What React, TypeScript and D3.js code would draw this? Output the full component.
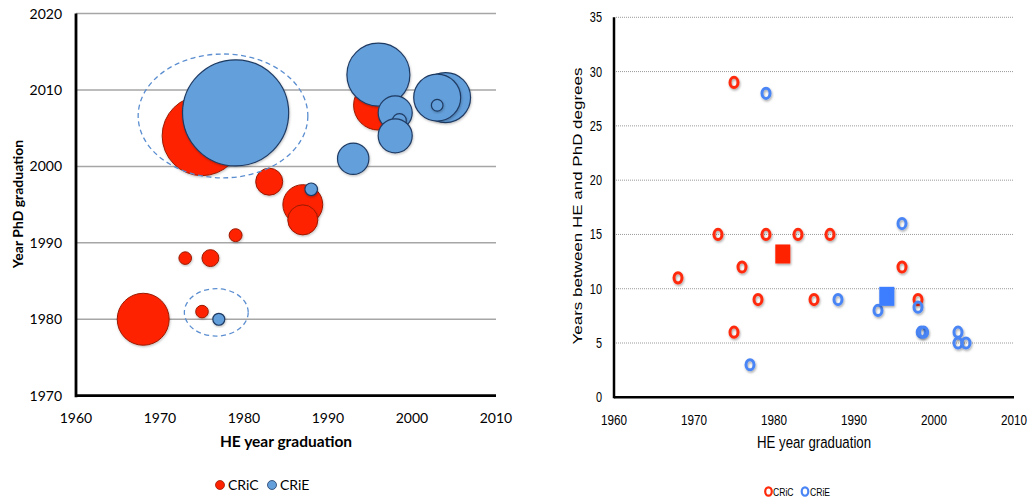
import React from "react";
import * as d3 from "d3";

// ---------- Left chart data (bubble chart) ----------
const cricHE = [1968, 1973, 1975, 1975, 1976, 1979, 1983, 1987, 1987, 1996];
const cricPhD = [1980, 1988, 1981, 2004, 1988, 1991, 1998, 1995, 1993, 2008];
const cricSize = [17, 1, 1, 40, 1.8, 1.05, 4.6, 10, 5.7, 15.5];

const crieHE = [1977, 1979, 1988, 1993, 1996, 1998, 1998.5, 1998, 2004, 2003, 2003];
const criePhD = [1980, 2007, 1997, 2001, 2012, 2007, 2006, 2004, 2009, 2009, 2008];
const crieSize = [0.9, 71, 1, 6.2, 25, 7.3, 1.2, 7.3, 15.7, 13.9, 0.85];

// dashed annotation ellipses (data units: cx, cy, rx years, ry years)
const groupCx = [1977.5, 1976.7];
const groupCy = [2006.6, 1980.9];
const groupRx = [10.1, 3.8];
const groupRy = [8.1, 3.1];

const leftXTicks = [1960, 1970, 1980, 1990, 2000, 2010];
const leftYTicks = [1970, 1980, 1990, 2000, 2010, 2020];

// ---------- Right chart data (gap scatter) ----------
const cricGapHE = [1968, 1973, 1975, 1975, 1976, 1978, 1979, 1983, 1985, 1987, 1996, 1998];
const cricGap = [11, 15, 29, 6, 12, 9, 15, 15, 9, 15, 12, 9];
const crieGapHE = [1977, 1979, 1988, 1993, 1996, 1998, 1998.4, 1998.7, 2003, 2003, 2004];
const crieGap = [3, 28, 9, 8, 16, 8.3, 6, 6, 6, 5, 5];
const meanHE = [1981.1, 1994.1];
const meanGap = [13.2, 9.3];

const rightXTicks = [1960, 1970, 1980, 1990, 2000, 2010];
const rightYTicks = [0, 5, 10, 15, 20, 25, 30, 35];

const RED = "#FF2200";
const RED_STROKE = "#9A1A05";
const BLUE = "#639FDB";
const BLUE_STROKE = "#1F3B63";
const RING_RED = "#FF2A0A";
const RING_BLUE = "#4A85F5";

const LFONT = "Lato, 'Open Sans', sans-serif";
const RFONT = "'Liberation Sans', Arial, sans-serif";

export default function App() {
  // left scales
  const lx = d3.scaleLinear().domain([1960, 2010]).range([76, 496]);
  const ly = d3.scaleLinear().domain([1970, 2020]).range([395.7, 13.5]);
  const rs = d3.scaleSqrt().domain([0, 1]).range([0, 6.3]);

  // right scales
  const rx = d3.scaleLinear().domain([1960, 2010]).range([614, 1014]);
  const ry = d3.scaleLinear().domain([0, 35]).range([397.3, 17.3]);

  const sx = 0.78; // horizontal squeeze of right-hand text

  return (
    <svg
      width={1032}
      height={497}
      style={{ position: "absolute", left: 0, top: 0, background: "#fff" }}
    >
      <defs>
        <filter id="sh" x="-50%" y="-50%" width="200%" height="200%">
          <feDropShadow dx="0.8" dy="1.5" stdDeviation="0.9" floodColor="#000" floodOpacity="0.35" />
        </filter>
        <filter id="shb" x="-20%" y="-20%" width="140%" height="140%">
          <feDropShadow dx="0.6" dy="1.2" stdDeviation="1" floodColor="#000" floodOpacity="0.25" />
        </filter>
      </defs>

      {/* ================= LEFT CHART ================= */}
      <g>
        {leftYTicks.filter((t) => t !== 1970).map((t) => (
          <line key={"lg" + t} x1={lx(1960)} x2={lx(2010)} y1={ly(t)} y2={ly(t)} stroke="#A6A6A6" strokeWidth={1.5} />
        ))}
        {leftYTicks.map((t) => (
          <text key={"lyt" + t} x={62} y={ly(t) + 5} textAnchor="end" fontFamily={LFONT} fontSize={14} fill="#000">
            {t}
          </text>
        ))}
        {leftXTicks.map((t) => (
          <text key={"lxt" + t} x={lx(t)} y={422.5} textAnchor="middle" fontFamily={LFONT} fontSize={14} fill="#000">
            {t}
          </text>
        ))}

        {/* bubbles: CRiC */}
        {cricHE.map((h, i) => (
          <circle key={"cb" + i} cx={lx(h)} cy={ly(cricPhD[i])} r={rs(cricSize[i])} fill={RED} stroke={RED_STROKE} strokeWidth={1} filter="url(#shb)" />
        ))}
        {/* bubbles: CRiE */}
        {crieHE.map((h, i) => (
          <circle key={"eb" + i} cx={lx(h)} cy={ly(criePhD[i])} r={rs(crieSize[i])} fill={BLUE} stroke={BLUE_STROKE} strokeWidth={1.2} filter="url(#shb)" />
        ))}

        {/* dashed group ellipses */}
        {groupCx.map((c, i) => (
          <ellipse
            key={"ge" + i}
            cx={lx(c)}
            cy={ly(groupCy[i])}
            rx={lx(c + groupRx[i]) - lx(c)}
            ry={ly(groupCy[i]) - ly(groupCy[i] + groupRy[i])}
            fill="none"
            stroke="#5B8ED0"
            strokeWidth={1.3}
            strokeDasharray="5,3.5"
          />
        ))}

        {/* axes */}
        <line x1={lx(1960)} x2={lx(1960)} y1={ly(2020)} y2={ly(1970) + 1.5} stroke="#000" strokeWidth={2.8} />
        <line x1={lx(1960)} x2={lx(2010)} y1={ly(1970)} y2={ly(1970)} stroke="#000" strokeWidth={2.8} />

        <text x={286} y={446.5} textAnchor="middle" fontFamily={LFONT} fontWeight="bold" fontSize={15.5} fill="#000">
          HE year graduation
        </text>
        <text transform={`translate(23,204) rotate(-90)`} textAnchor="middle" fontFamily={LFONT} fontWeight="bold" fontSize={14} fill="#000">
          Year PhD graduation
        </text>

        {/* legend */}
        <circle cx={220} cy={485} r={4.5} fill={RED} stroke={RED_STROKE} strokeWidth={0.8} />
        <text x={228} y={490} fontFamily={LFONT} fontSize={14} fill="#000">CRiC</text>
        <circle cx={272} cy={485} r={4.5} fill={BLUE} stroke={BLUE_STROKE} strokeWidth={0.8} />
        <text x={280} y={490} fontFamily={LFONT} fontSize={14} fill="#000">CRiE</text>
      </g>

      {/* ================= RIGHT CHART ================= */}
      <g>
        {rightYTicks.filter((t) => t !== 0).map((t) => (
          <line key={"rg" + t} x1={rx(1960) + 2} x2={rx(2010)} y1={ry(t)} y2={ry(t)} stroke="#9A9A9A" strokeWidth={1} strokeDasharray="1,1" />
        ))}
        {rightYTicks.map((t) => (
          <text key={"ryt" + t} transform={`translate(602,${ry(t) + 5}) scale(${sx},1)`} textAnchor="end" fontFamily={RFONT} fontSize={14} fill="#000">
            {t}
          </text>
        ))}
        {rightXTicks.map((t) => (
          <text key={"rxt" + t} transform={`translate(${rx(t)},425) scale(${sx},1)`} textAnchor="middle" fontFamily={RFONT} fontSize={15} fill="#000">
            {t}
          </text>
        ))}

        <line x1={rx(1960)} x2={rx(1960)} y1={ry(35)} y2={ry(0) + 1} stroke="#000" strokeWidth={2.5} />
        <line x1={rx(1960)} x2={rx(2010)} y1={ry(0)} y2={ry(0)} stroke="#000" strokeWidth={2.5} />

        {/* CRiC rings */}
        {cricGapHE.map((h, i) => (
          <ellipse key={"cr" + i} cx={rx(h)} cy={ry(cricGap[i])} rx={4} ry={5.1} fill="none" stroke={RING_RED} strokeWidth={3} filter="url(#sh)" />
        ))}
        {/* CRiE rings */}
        {crieGapHE.map((h, i) => (
          <ellipse key={"er" + i} cx={rx(h)} cy={ry(crieGap[i])} rx={4} ry={5.1} fill="none" stroke={RING_BLUE} strokeWidth={3} filter="url(#sh)" />
        ))}
        {/* means */}
        {meanHE.map((h, i) => (
          <rect key={"m" + i} x={rx(h) - 7.5} y={ry(meanGap[i]) - 9.5} width={15} height={19} fill={i === 0 ? RED : "#3C7DFF"} filter="url(#sh)" />
        ))}

        <text transform={`translate(814,448) scale(${sx},1)`} textAnchor="middle" fontFamily={RFONT} fontSize={17} fill="#000">
          HE year graduation
        </text>
        <text transform={`translate(582,206) rotate(-90) scale(1,${sx})`} textAnchor="middle" fontFamily={RFONT} fontSize={17} fill="#000">
          Years between HE and PhD degrees
        </text>

        {/* legend */}
        <ellipse cx={768.5} cy={491.5} rx={3.3} ry={4.2} fill="none" stroke={RING_RED} strokeWidth={2.2} />
        <text transform={`translate(773,495.5) scale(${sx},1)`} fontFamily={RFONT} fontSize={11} fill="#000">CRiC</text>
        <ellipse cx={805} cy={491.5} rx={3.3} ry={4.2} fill="none" stroke={RING_BLUE} strokeWidth={2.2} />
        <text transform={`translate(810,495.5) scale(${sx},1)`} fontFamily={RFONT} fontSize={11} fill="#000">CRiE</text>
      </g>
    </svg>
  );
}
